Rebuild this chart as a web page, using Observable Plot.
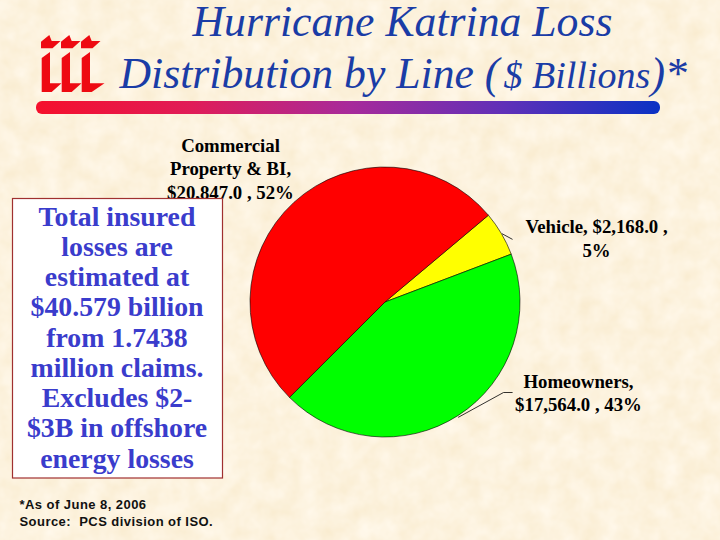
<!DOCTYPE html>
<html>
<head>
<meta charset="utf-8">
<script src="https://cdn.jsdelivr.net/npm/d3@7"></script>
<script src="https://cdn.jsdelivr.net/npm/@observablehq/plot@0.6"></script>
<style>html,body{margin:0;padding:0;background:#fdf2de}svg{display:block}.foot text{letter-spacing:0.45px;white-space:pre}</style>
</head>
<body>
<div id="chart"></div>
<script>
const categories = ["Vehicle", "Homeowners", "Commercial Property & BI"];
const losses = [2168.0, 17564.0, 20847.0];
const colors = ["#ffff00", "#00ff00", "#ff0000"];
const startDegrees = 50;
const pieCenter = [385, 302];
const pieRadius = 135;

const sliceLabels = [
  {t: "Commercial", x: 230, y: 151}, {t: "Property & BI,", x: 230, y: 174}, {t: "$20,847.0 , 52%", x: 230, y: 198},
  {t: "Vehicle, $2,168.0 ,", x: 596, y: 232}, {t: "5%", x: 596, y: 256.5},
  {t: "Homeowners,", x: 578, y: 387.5}, {t: "$17,564.0 , 43%", x: 578, y: 410.5}
];
const leaders = [
  {id: "v", x: 501.7, y: 233.3}, {id: "v", x: 511.7, y: 238.7},
  {id: "h", x: 458, y: 416.7}, {id: "h", x: 503, y: 392}, {id: "h", x: 511.7, y: 392}
];
const boxLines = ["Total insured", "losses are", "estimated at", "$40.579 billion", "from 1.7438", "million claims.", "Excludes $2-", "$3B in offshore", "energy losses"];
const footLines = ["*As of June 8, 2006", "Source:  PCS division of ISO."];
const titleParts = [
  {t: "Hurricane Katrina Loss", x: 192, y: 35, s: 43.7},
  {t: "Distribution by Line (", x: 119, y: 87, s: 43.7},
  {t: "$ Billions", x: 503, y: 87, s: 38},
  {t: ")*", x: 650, y: 87, s: 43.7}
];

const svgNS = "http://www.w3.org/2000/svg";
function el(name, attrs, parent) {
  const e = document.createElementNS(svgNS, name);
  for (const k in attrs) e.setAttribute(k, attrs[k]);
  if (parent) parent.appendChild(e);
  return e;
}

function backgroundMark(index, {}, values, {width, height}) {
  const g = el("g", {});
  const defs = el("defs", {}, g);
  const f = el("filter", {id: "paper", x: 0, y: 0, width: "100%", height: "100%", "color-interpolation-filters": "sRGB"}, defs);
  el("feTurbulence", {type: "fractalNoise", baseFrequency: "0.05", numOctaves: 3, seed: 4}, f);
  el("feColorMatrix", {values: "0.03 0 0 0 0.975  0.06 0 0 0 0.92  0.13 0 0 0 0.805  0 0 0 0 1"}, f);
  const lg = el("linearGradient", {id: "rule", x1: 0, x2: 1, y1: 0, y2: 0}, defs);
  el("stop", {offset: "0", "stop-color": "#f5102c"}, lg);
  el("stop", {offset: "0.25", "stop-color": "#e01c58"}, lg);
  el("stop", {offset: "0.5", "stop-color": "#a82a9a"}, lg);
  el("stop", {offset: "0.75", "stop-color": "#6030b8"}, lg);
  el("stop", {offset: "1", "stop-color": "#0a32c4"}, lg);
  el("rect", {width, height, filter: "url(#paper)"}, g);
  return g;
}

function pieMark(index, {x, y}) {
  const arcs = d3.pie().sort(null).startAngle(startDegrees * Math.PI / 180).endAngle((startDegrees + 360) * Math.PI / 180)(losses);
  const arc = d3.arc().innerRadius(0).outerRadius(x(pieRadius) - x(0));
  const g = el("g", {transform: `translate(${x(pieCenter[0])},${y(pieCenter[1])})`});
  arcs.forEach((a, i) => {
    const p = el("path", {d: arc(a), fill: colors[i], stroke: "#000", "stroke-width": 0.6}, g);
    el("title", {}, p).textContent = categories[i];
  });
  return g;
}

function logoMark() {
  const g = el("g", {fill: "#ee0a12"});
  const hat = "M41 41.7 L49.3 35 L51.7 41 H60.5 L52.5 48.3 H41 Z";
  const stem = tip => `M41.7 58 L50 52 V83.3 H${tip} L51.7 92 H41.7 Z`;
  [[0, 61.5], [20, 61.5], [40, 64.5]].forEach(([dx, tip]) => {
    const t = el("g", {transform: `translate(${dx},0)`}, g);
    el("path", {d: hat}, t);
    el("path", {d: stem(tip)}, t);
  });
  return g;
}

const serif = "'Liberation Serif', serif";
const sans = "'Liberation Sans', sans-serif";

const plot = Plot.plot({
  width: 720, height: 540,
  margin: 0,
  style: {background: "transparent"},
  x: {domain: [0, 720], range: [0, 720], axis: null},
  y: {domain: [0, 540], range: [0, 540], axis: null},
  marks: [
    backgroundMark,
    logoMark,
    Plot.rect([{x1: 36, x2: 660, y1: 101, y2: 114}], {x1: "x1", x2: "x2", y1: "y1", y2: "y2", fill: "url(#rule)", rx: 6}),
    ...titleParts.map(d => Plot.text([d], {x: "x", y: "y", text: "t", textAnchor: "start", lineAnchor: "bottom", fontFamily: serif, fontStyle: "italic", fontSize: d.s, fill: "#1a3ca6"})),
    Plot.line(leaders, {x: "x", y: "y", z: "id", stroke: "#000", strokeWidth: 0.8}),
    pieMark,
    Plot.text(sliceLabels, {x: "x", y: "y", text: "t", lineAnchor: "bottom", fontFamily: serif, fontWeight: "bold", fontSize: 18.8, fill: "#000"}),
    Plot.rect([{x1: 12.5, x2: 222.5, y1: 198.5, y2: 478}], {x1: "x1", x2: "x2", y1: "y1", y2: "y2", fill: "#fff", stroke: "#a03030", strokeWidth: 1.2}),
    Plot.text(boxLines, {x: () => 116.5, y: (d, i) => 225 + i * 30.25, text: d => d, lineAnchor: "bottom", fontFamily: serif, fontWeight: "bold", fontSize: 27.8, fill: "#3a3ccc"}),
    Plot.text(footLines, {x: () => 19, y: (d, i) => 508.5 + i * 17, text: d => d, textAnchor: "start", lineAnchor: "bottom", fontFamily: sans, fontWeight: "bold", fontSize: 13, fill: "#111", className: "foot"})
  ]
});
document.getElementById("chart").appendChild(plot);
</script>
</body>
</html>
